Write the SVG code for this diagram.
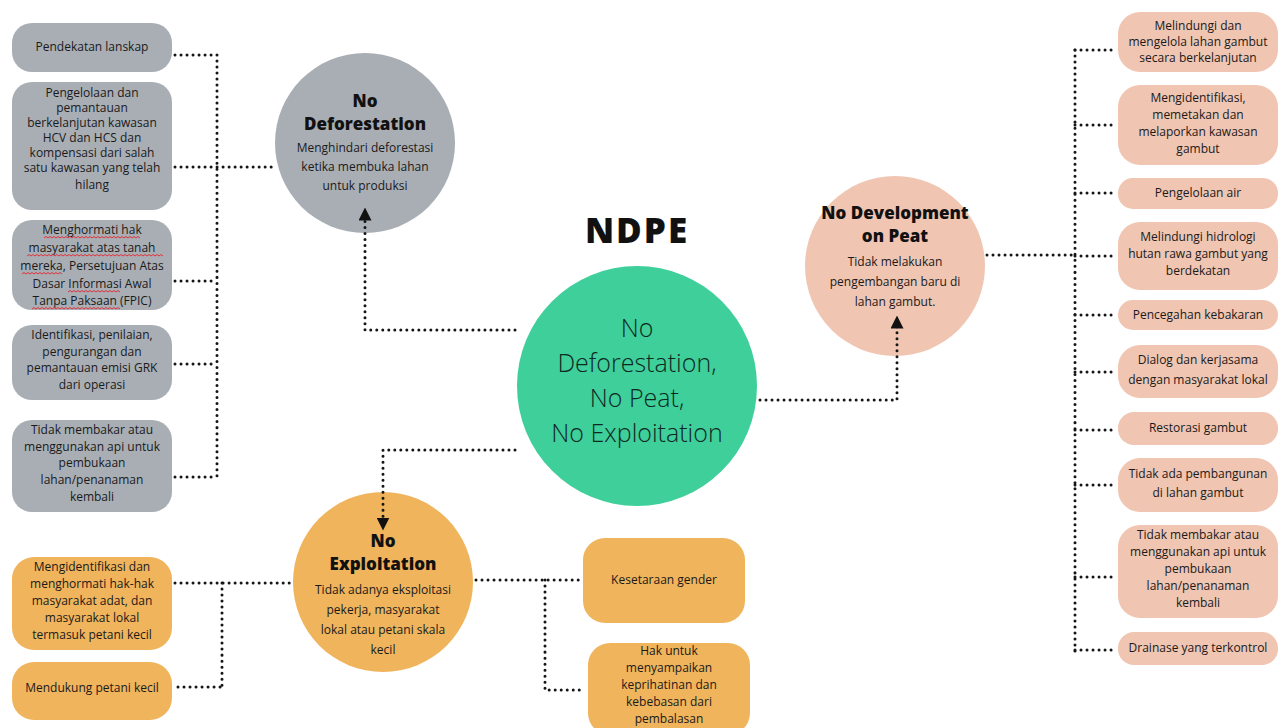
<svg xmlns="http://www.w3.org/2000/svg" width="1284" height="728" viewBox="0 0 1284 728">
<defs>
<style>
.bg{fill:#ffffff}
.gray{fill:#a9aeb5}
.pink{fill:#f0c5b2}
.orange{fill:#f0b45c}
.teal{fill:#3ecf9b}
.t{font-family:"Open Sans","Liberation Sans",sans-serif;font-size:12px;font-weight:500;fill:#1a1a1a;text-anchor:middle}
.h{font-family:"Open Sans","Liberation Sans",sans-serif;font-size:17px;font-weight:800;fill:#111;text-anchor:middle}
.d{font-family:"Open Sans","Liberation Sans",sans-serif;font-size:12px;font-weight:500;fill:#1a1a1a;text-anchor:middle}
.c{font-family:"Open Sans","Liberation Sans",sans-serif;font-size:25px;font-weight:300;fill:#10291f;text-anchor:middle}
.title{font-family:"Open Sans","Liberation Sans",sans-serif;font-size:35px;font-weight:800;fill:#111;text-anchor:middle;letter-spacing:2px}
.dot{fill:none;stroke:#151515;stroke-width:3;stroke-dasharray:0.01 6;stroke-linecap:round}
.wave{fill:none;stroke:#e0303a;stroke-width:1}
</style>
<marker id="ah" viewBox="0 0 10 10" refX="5" refY="5" markerWidth="13" markerHeight="13" markerUnits="userSpaceOnUse" orient="auto">
<path d="M0 0 L10 5 L0 10 Z" fill="#111"/>
</marker>
</defs>
<rect class="bg" x="0" y="0" width="1284" height="728"/>

<g id="ndpe-title"><text class="title" x="637" y="243">NDPE</text></g>

<g id="center">
<circle class="teal" cx="637" cy="386" r="120"/>
<text class="c" x="637" y="337">No</text>
<text class="c" x="637" y="372">Deforestation,</text>
<text class="c" x="637" y="407">No Peat,</text>
<text class="c" x="637" y="442">No Exploitation</text>
</g>

<g id="no-deforestation">
<circle class="gray" cx="365" cy="143" r="90"/>
<text class="h" x="365" y="107">No</text>
<text class="h" x="365" y="130">Deforestation</text>
<text class="d" x="365" y="152">Menghindari deforestasi</text>
<text class="d" x="365" y="171">ketika membuka lahan</text>
<text class="d" x="365" y="190">untuk produksi</text>
</g>

<g id="no-peat">
<circle class="pink" cx="895" cy="266" r="90"/>
<text class="h" x="895" y="219">No Development</text>
<text class="h" x="895" y="242">on Peat</text>
<text class="d" x="895" y="266">Tidak melakukan</text>
<text class="d" x="895" y="286">pengembangan baru di</text>
<text class="d" x="895" y="306">lahan gambut.</text>
</g>

<g id="no-exploitation">
<circle class="orange" cx="383" cy="582" r="90"/>
<text class="h" x="383" y="547">No</text>
<text class="h" x="383" y="570">Exploitation</text>
<text class="d" x="383" y="594">Tidak adanya eksploitasi</text>
<text class="d" x="383" y="614">pekerja, masyarakat</text>
<text class="d" x="383" y="634">lokal atau petani skala</text>
<text class="d" x="383" y="654">kecil</text>
</g>

<g id="l1"><rect class="gray" x="12" y="23" width="160" height="49" rx="20"/>
<text class="t" x="92" y="51">Pendekatan lanskap</text></g>
<g id="l2"><rect class="gray" x="12" y="82" width="160" height="128" rx="20"/>
<text class="t" x="92" y="97">Pengelolaan dan</text>
<text class="t" x="92" y="112">pemantauan</text>
<text class="t" x="92" y="127">berkelanjutan kawasan</text>
<text class="t" x="92" y="142">HCV dan HCS dan</text>
<text class="t" x="92" y="157">kompensasi dari salah</text>
<text class="t" x="92" y="172">satu kawasan yang telah</text>
<text class="t" x="92" y="189">hilang</text></g>
<g id="l3"><rect class="gray" x="12" y="220" width="160" height="90" rx="20"/>
<text class="t" x="92" y="234">Menghormati hak</text>
<text class="t" x="92" y="252">masyarakat atas tanah</text>
<text class="t" x="92" y="270">mereka, Persetujuan Atas</text>
<text class="t" x="92" y="288">Dasar Informasi Awal</text>
<text class="t" x="92" y="305">Tanpa Paksaan (FPIC)</text>
<path class="wave" d="M44 238 l2 -1.5 l2 1.5 l2 -1.5 l2 1.5 l2 -1.5 l2 1.5 l2 -1.5 l2 1.5 l2 -1.5 l2 1.5 l2 -1.5 l2 1.5 l2 -1.5 l2 1.5 l2 -1.5 l2 1.5 l2 -1.5 l2 1.5 l2 -1.5 l2 1.5 l2 -1.5 l2 1.5 l2 -1.5 l2 1.5 l2 -1.5 l2 1.5 l2 -1.5 l2 1.5 l2 -1.5 l2 1.5 l2 -1.5 l2 1.5 l2 -1.5 l2 1.5 l2 -1.5 l2 1.5 l2 -1.5 l2 1.5 l2 -1.5 l2 1.5 l2 -1.5 l2 1.5 l2 -1.5 l2 1.5 l2 -1.5 l2 1.5 l2 -1.5 l2 1.5"/>
<path class="wave" d="M27 256 l2 -1.5 l2 1.5 l2 -1.5 l2 1.5 l2 -1.5 l2 1.5 l2 -1.5 l2 1.5 l2 -1.5 l2 1.5 l2 -1.5 l2 1.5 l2 -1.5 l2 1.5 l2 -1.5 l2 1.5 l2 -1.5 l2 1.5 l2 -1.5 l2 1.5 l2 -1.5 l2 1.5 l2 -1.5 l2 1.5 l2 -1.5 l2 1.5 l2 -1.5 l2 1.5 l2 -1.5 l2 1.5 l2 -1.5 l2 1.5 l2 -1.5 l2 1.5 l2 -1.5 l2 1.5 l2 -1.5 l2 1.5 l2 -1.5 l2 1.5 l2 -1.5 l2 1.5 l2 -1.5 l2 1.5 l2 -1.5 l2 1.5 l2 -1.5 l2 1.5 l2 -1.5 l2 1.5 l2 -1.5 l2 1.5 l2 -1.5 l2 1.5 l2 -1.5 l2 1.5 l2 -1.5 l2 1.5 l2 -1.5 l2 1.5 l2 -1.5 l2 1.5 l2 -1.5 l2 1.5 l2 -1.5 l2 1.5 l2 -1.5 l2 1.5"/>
<path class="wave" d="M22 274 l2 -1.5 l2 1.5 l2 -1.5 l2 1.5 l2 -1.5 l2 1.5 l2 -1.5 l2 1.5 l2 -1.5 l2 1.5 l2 -1.5 l2 1.5 l2 -1.5 l2 1.5 l2 -1.5 l2 1.5 l2 -1.5 l2 1.5 l2 -1.5 l2 1.5"/>
<path class="wave" d="M68 292 l2 -1.5 l2 1.5 l2 -1.5 l2 1.5 l2 -1.5 l2 1.5 l2 -1.5 l2 1.5 l2 -1.5 l2 1.5 l2 -1.5 l2 1.5 l2 -1.5 l2 1.5 l2 -1.5 l2 1.5 l2 -1.5 l2 1.5 l2 -1.5 l2 1.5 l2 -1.5 l2 1.5 l2 -1.5 l2 1.5 l2 -1.5 l2 1.5"/>
<path class="wave" d="M32 309 l2 -1.5 l2 1.5 l2 -1.5 l2 1.5 l2 -1.5 l2 1.5 l2 -1.5 l2 1.5 l2 -1.5 l2 1.5 l2 -1.5 l2 1.5 l2 -1.5 l2 1.5 l2 -1.5 l2 1.5 l2 -1.5 l2 1.5 l2 -1.5 l2 1.5 l2 -1.5 l2 1.5 l2 -1.5 l2 1.5 l2 -1.5 l2 1.5 l2 -1.5 l2 1.5 l2 -1.5 l2 1.5 l2 -1.5 l2 1.5 l2 -1.5 l2 1.5 l2 -1.5 l2 1.5 l2 -1.5 l2 1.5 l2 -1.5 l2 1.5 l2 -1.5 l2 1.5 l2 -1.5 l2 1.5"/>
</g>
<g id="l4"><rect class="gray" x="12" y="325" width="160" height="75" rx="20"/>
<text class="t" x="92" y="339">Identifikasi, penilaian,</text>
<text class="t" x="92" y="356">pengurangan dan</text>
<text class="t" x="92" y="372">pemantauan emisi GRK</text>
<text class="t" x="92" y="389">dari operasi</text></g>
<g id="l5"><rect class="gray" x="12" y="420" width="160" height="92" rx="20"/>
<text class="t" x="92" y="434">Tidak membakar atau</text>
<text class="t" x="92" y="451">menggunakan api untuk</text>
<text class="t" x="92" y="467">pembukaan</text>
<text class="t" x="92" y="484">lahan/penanaman</text>
<text class="t" x="92" y="501">kembali</text></g>

<g id="r1"><rect class="pink" x="1118" y="12" width="160" height="60" rx="22"/>
<text class="t" x="1198" y="30">Melindungi dan</text>
<text class="t" x="1198" y="46">mengelola lahan gambut</text>
<text class="t" x="1198" y="62">secara berkelanjutan</text></g>
<g id="r2"><rect class="pink" x="1118" y="85" width="160" height="80" rx="22"/>
<text class="t" x="1198" y="102">Mengidentifikasi,</text>
<text class="t" x="1198" y="119">memetakan dan</text>
<text class="t" x="1198" y="136">melaporkan kawasan</text>
<text class="t" x="1198" y="153">gambut</text></g>
<g id="r3"><rect class="pink" x="1118" y="178" width="160" height="31" rx="15"/>
<text class="t" x="1198" y="197">Pengelolaan air</text></g>
<g id="r4"><rect class="pink" x="1118" y="222" width="160" height="68" rx="22"/>
<text class="t" x="1198" y="241">Melindungi hidrologi</text>
<text class="t" x="1198" y="258">hutan rawa gambut yang</text>
<text class="t" x="1198" y="275">berdekatan</text></g>
<g id="r5"><rect class="pink" x="1118" y="300" width="160" height="30" rx="15"/>
<text class="t" x="1198" y="319">Pencegahan kebakaran</text></g>
<g id="r6"><rect class="pink" x="1118" y="345" width="160" height="53" rx="22"/>
<text class="t" x="1198" y="364">Dialog dan kerjasama</text>
<text class="t" x="1198" y="384">dengan masyarakat lokal</text></g>
<g id="r7"><rect class="pink" x="1118" y="412" width="160" height="33" rx="16"/>
<text class="t" x="1198" y="432">Restorasi gambut</text></g>
<g id="r8"><rect class="pink" x="1118" y="458" width="160" height="54" rx="22"/>
<text class="t" x="1198" y="478">Tidak ada pembangunan</text>
<text class="t" x="1198" y="497">di lahan gambut</text></g>
<g id="r9"><rect class="pink" x="1118" y="525" width="160" height="93" rx="22"/>
<text class="t" x="1198" y="539">Tidak membakar atau</text>
<text class="t" x="1198" y="556">menggunakan api untuk</text>
<text class="t" x="1198" y="573">pembukaan</text>
<text class="t" x="1198" y="590">lahan/penanaman</text>
<text class="t" x="1198" y="607">kembali</text></g>
<g id="r10"><rect class="pink" x="1118" y="632" width="160" height="33" rx="16"/>
<text class="t" x="1198" y="652">Drainase yang terkontrol</text></g>

<g id="b1"><rect class="orange" x="12" y="557" width="160" height="93" rx="22"/>
<text class="t" x="92" y="571">Mengidentifikasi dan</text>
<text class="t" x="92" y="588">menghormati hak-hak</text>
<text class="t" x="92" y="605">masyarakat adat, dan</text>
<text class="t" x="92" y="622">masyarakat lokal</text>
<text class="t" x="92" y="639">termasuk petani kecil</text></g>
<g id="b2"><rect class="orange" x="12" y="662" width="160" height="58" rx="22"/>
<text class="t" x="92" y="692">Mendukung petani kecil</text></g>
<g id="b3"><rect class="orange" x="583" y="538" width="162" height="85" rx="22"/>
<text class="t" x="664" y="584">Kesetaraan gender</text></g>
<g id="b4"><rect class="orange" x="588" y="643" width="162" height="92" rx="22"/>
<text class="t" x="669" y="655">Hak untuk</text>
<text class="t" x="669" y="672">menyampaikan</text>
<text class="t" x="669" y="689">keprihatinan dan</text>
<text class="t" x="669" y="706">kebebasan dari</text>
<text class="t" x="669" y="723">pembalasan</text></g>

<g id="connectors">
<path class="dot" d="M515 330 H365 V214" marker-end="url(#ah)"/>
<path class="dot" d="M760 400 H897 V322" marker-end="url(#ah)"/>
<path class="dot" d="M515 450 H383 V524" marker-end="url(#ah)"/>
<path class="dot" d="M217 55 V477"/>
<path class="dot" d="M175 55 H217"/>
<path class="dot" d="M175 167 H272"/>
<path class="dot" d="M175 281 H217"/>
<path class="dot" d="M175 364 H217"/>
<path class="dot" d="M175 477 H217"/>
<path class="dot" d="M1075 50 V652"/>
<path class="dot" d="M987 255 H1075"/>
<path class="dot" d="M1075 50 H1115"/>
<path class="dot" d="M1075 125 H1115"/>
<path class="dot" d="M1075 193 H1115"/>
<path class="dot" d="M1075 256 H1115"/>
<path class="dot" d="M1075 315 H1115"/>
<path class="dot" d="M1075 372 H1115"/>
<path class="dot" d="M1075 430 H1115"/>
<path class="dot" d="M1075 485 H1115"/>
<path class="dot" d="M1075 577 H1115"/>
<path class="dot" d="M1075 650 H1115"/>
<path class="dot" d="M175 583 H290"/>
<path class="dot" d="M222 583 V687"/>
<path class="dot" d="M178 687 H222"/>
<path class="dot" d="M476 580 H580"/>
<path class="dot" d="M545 580 V690 H585"/>
</g>
</svg>
